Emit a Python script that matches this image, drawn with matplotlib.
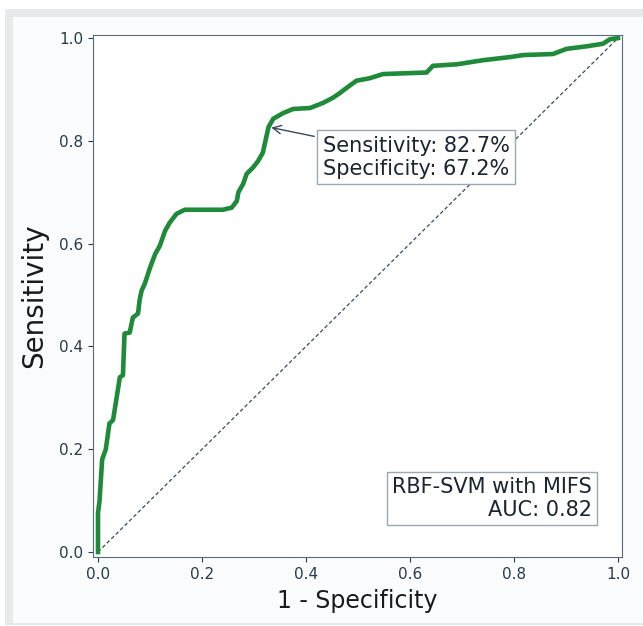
import matplotlib
matplotlib.use('Agg')
import matplotlib.pyplot as plt
from matplotlib.patches import Rectangle


# ROC curve
# ------------------------------------------------------------------
fpr = [0.0, 0.0, 0.003, 0.008, 0.015, 0.022, 0.029, 0.035, 0.042, 0.048,
       0.051, 0.061, 0.067, 0.077, 0.080, 0.084, 0.090, 0.100, 0.110, 0.119,
       0.129, 0.138, 0.151, 0.167, 0.240, 0.257, 0.267, 0.270, 0.279, 0.286,
       0.298, 0.308, 0.317, 0.322, 0.328, 0.337, 0.356, 0.375, 0.408, 0.433,
       0.452, 0.465, 0.478, 0.497, 0.523, 0.548, 0.632, 0.644, 0.690, 0.741,
       0.792, 0.818, 0.875, 0.901, 0.940, 0.971, 0.985, 1.0]
tpr = [0.0, 0.076, 0.100, 0.180, 0.200, 0.250, 0.257, 0.295, 0.340, 0.344,
       0.425, 0.427, 0.456, 0.464, 0.490, 0.509, 0.522, 0.553, 0.580, 0.596,
       0.625, 0.641, 0.658, 0.666, 0.666, 0.670, 0.683, 0.700, 0.716, 0.736,
       0.748, 0.761, 0.777, 0.800, 0.827, 0.843, 0.854, 0.862, 0.864, 0.874,
       0.884, 0.893, 0.903, 0.917, 0.922, 0.930, 0.933, 0.946, 0.949, 0.957,
       0.963, 0.967, 0.969, 0.979, 0.984, 0.989, 0.998, 1.0]

chance = [0.0, 1.0]
ticks = [0.0, 0.2, 0.4, 0.6, 0.8, 1.0]
cut_fpr, cut_tpr = 0.328, 0.827
sens_text = 'Sensitivity: 82.7%\nSpecificity: 67.2%'
model_text = 'RBF-SVM with MIFS\nAUC: 0.82'


# figure
# ------------------------------------------------------------------
W, H = 643, 626
fig = plt.figure(figsize=(6.43, 6.26), dpi=100, facecolor='white')
fig.patches.append(Rectangle((5 / W, 1 - 625 / H), 638 / W, 616 / H,
                             transform=fig.transFigure, facecolor='#e8e9eb',
                             edgecolor='none', zorder=-2))
fig.patches.append(Rectangle((13 / W, 1 - 623 / H), 630 / W, 606 / H,
                             transform=fig.transFigure, facecolor='#fbfcfd',
                             edgecolor='none', zorder=-1))

ax = fig.add_axes([93 / W, 1 - 557 / H, 529 / W, 522 / H])
ax.set_facecolor('white')
ax.plot(chance, chance, linestyle=(0, (3, 2)), color='#3a4a5c', linewidth=0.9)
ax.plot(fpr, tpr, color='#1e8a3a', linewidth=3.3, solid_joinstyle='round')

ax.set_xlim(-0.0096, 1.0077)
ax.set_ylim(-0.0097, 1.006)
ax.set_xticks(ticks)
ax.set_yticks(ticks)
ax.tick_params(labelsize=11, colors='#2b3a4a')
for s in ax.spines.values():
    s.set_color('#5a6a7a')

ax.set_xlabel('1 - Specificity', fontsize=17, color='#1a1a1a', labelpad=5)
ax.set_ylabel('Sensitivity', fontsize=20, color='#1a1a1a', labelpad=8)

box = dict(boxstyle='square,pad=0.25', facecolor='white',
           edgecolor='#9aa8b4', linewidth=1)
ax.annotate(sens_text, xy=(cut_fpr, cut_tpr), xytext=(0.432, 0.726),
            textcoords='data', fontsize=15, color='#1a2530', bbox=box,
            va='bottom', ha='left',
            arrowprops=dict(arrowstyle='->', color='#3a4a5c', lw=1))
ax.text(0.95, 0.062, model_text, fontsize=15, color='#1a2530',
        ha='right', va='bottom', multialignment='right', bbox=box)

fig.savefig('out.png', dpi=100, facecolor=fig.get_facecolor())
